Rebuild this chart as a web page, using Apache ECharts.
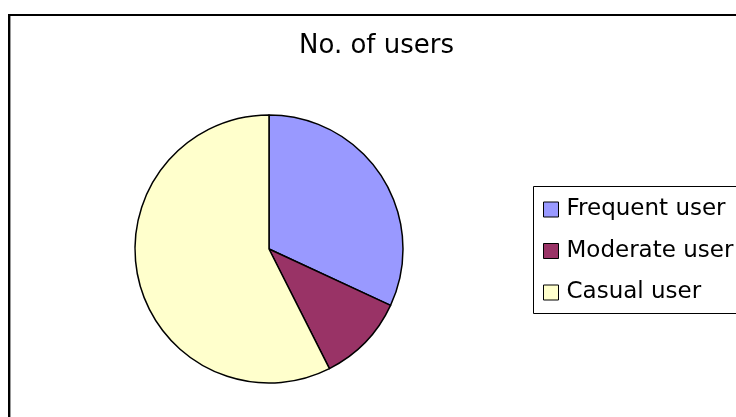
<!DOCTYPE html>
<html>
<head>
<meta charset="utf-8">
<script src="https://cdn.jsdelivr.net/npm/echarts@6/dist/echarts.min.js"></script>
<style>
html,body{margin:0;padding:0;background:#fff;}
#chart{width:736px;height:417px;}
</style>
</head>
<body>
<div id="chart"></div>
<script>
var titleText = 'No. of users';
var categories = ['Frequent user', 'Moderate user', 'Casual user'];
var values = [30, 10, 54];
var colors = ['#9999FF', '#993366', '#FFFFCC'];

var chart = echarts.init(document.getElementById('chart'), null, {renderer: 'canvas'});
var font = 'DejaVu Sans';
chart.setOption({
  animation: false,
  backgroundColor: '#ffffff',
  title: {
    text: titleText,
    left: 299,
    top: 33,
    padding: 0,
    textStyle: {fontFamily: font, fontSize: 26, fontWeight: 'normal', color: '#000', lineHeight: 26}
  },
  legend: {
    orient: 'vertical',
    left: 543,
    top: 198,
    padding: 0,
    itemWidth: 15,
    itemHeight: 15,
    itemGap: 18.5,
    icon: 'rect',
    selectedMode: false,
    itemStyle: {borderColor: '#000', borderWidth: 1},
    textStyle: {fontFamily: font, fontSize: 23, color: '#000', lineHeight: 23, padding: [0, 0, 0, 3]},
    data: categories
  },
  graphic: [
    {type: 'rect', shape: {x: 9, y: 15, width: 800, height: 500}, style: {fill: null, stroke: '#000', lineWidth: 2}, silent: true, z: 0},
    {type: 'line', shape: {x1: 10.5, y1: 16, x2: 10.5, y2: 417}, style: {stroke: '#999', lineWidth: 1}, silent: true},
    {type: 'rect', shape: {x: 533.5, y: 186.5, width: 400, height: 127}, style: {fill: null, stroke: '#000', lineWidth: 1}, silent: true}
  ],
  series: [{
    type: 'pie',
    center: [269, 249],
    radius: 134,
    startAngle: 90,
    clockwise: true,
    label: {show: false},
    labelLine: {show: false},
    emphasis: {disabled: true},
    itemStyle: {borderColor: '#000', borderWidth: 1.5},
    data: categories.map(function (c, i) {
      return {name: c, value: values[i], itemStyle: {color: colors[i]}};
    })
  }]
});
</script>
</body>
</html>
